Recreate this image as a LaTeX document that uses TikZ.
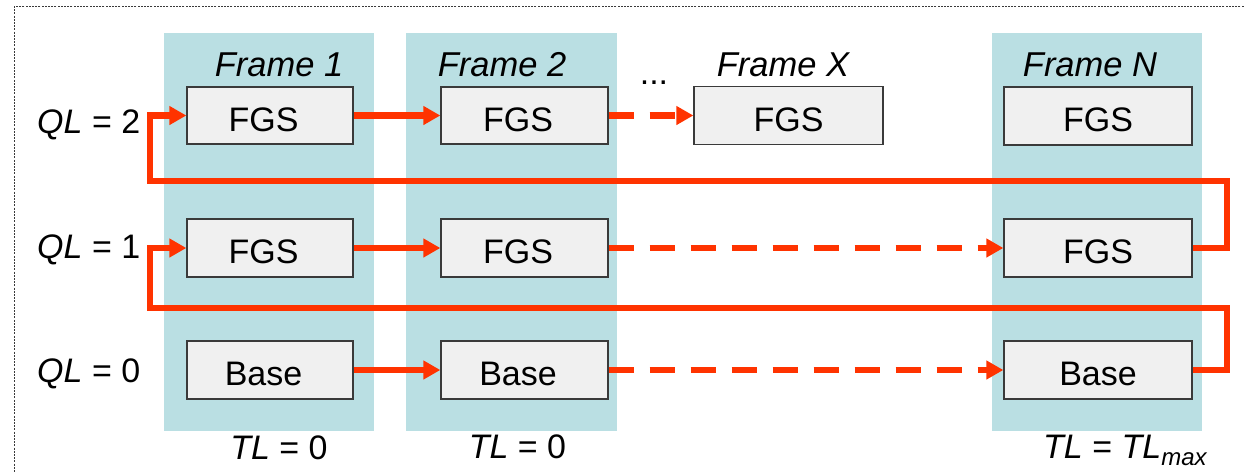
\documentclass[tikz,border=0pt]{standalone}
\usepackage{fontspec}
\setmainfont{Liberation Sans}
\usetikzlibrary{arrows.meta}

\definecolor{framebg}{HTML}{BADFE3}
\definecolor{boxbg}{HTML}{F0F0F0}
\definecolor{boxline}{HTML}{3A3A3A}
\definecolor{flowred}{HTML}{FF3300}

\tikzset{
  column/.style={fill=framebg, draw=none, inner sep=0pt},
  layerbox/.style={fill=boxbg, draw=boxline, line width=1.3pt, inner sep=0pt,
    text height=31pt, text depth=0pt,
    font=\fontsize{34}{36}\selectfont},
  leftbox/.style={layerbox, execute at begin node=\hspace*{-13pt}},
  framelabel/.style={anchor=base, inner sep=0pt, font=\fontsize{34.5}{36}\selectfont\itshape},
  sidelabel/.style={anchor=base west, inner sep=0pt, font=\fontsize{34}{36}\selectfont},
  tllabel/.style={anchor=base, inner sep=0pt, font=\fontsize{34}{36}\selectfont},
  flow/.style={draw=flowred, line width=6.5pt,
    -{Triangle[length=17pt,width=18pt]}},
  dashflow/.style={flow, dash pattern=on 25pt off 16pt},
}

\begin{document}
\begin{tikzpicture}[x=1pt, y=-1pt]
  \useasboundingbox (0,0) rectangle (1245,472);

  % dotted outer frame (runs past the right and bottom edges)
  \begin{scope}
    \clip (0,0) rectangle (1245,472);
    \draw[boxline, line width=0.8pt, dash pattern=on 2pt off 1.2pt]
      (14,6) rectangle (1260,490);
  \end{scope}

  % frame columns
  \node[column, minimum width=210pt, minimum height=398pt] (c1) at (269,232) {};
  \node[column, minimum width=211pt, minimum height=398pt] (c2) at (511.5,232) {};
  \node[column, minimum width=210pt, minimum height=398pt] (cn) at (1097,232) {};

  % frame titles
  \node[framelabel] (t1) at (279,76) {Frame 1};
  \node[framelabel] (t2) at (502,76) {Frame 2};
  \node[framelabel] (tx) at (783,76) {Frame X};
  \node[framelabel] (tn) at (1090,76) {Frame N};
  \node[anchor=base, inner sep=0pt, font=\fontsize{34}{36}\selectfont] (dots) at (654,84) {...};

  % quality level labels
  \node[sidelabel] (q2) at (37,133) {\textit{QL} = 2};
  \node[sidelabel] (q1) at (37,258) {\textit{QL} = 1};
  \node[sidelabel] (q0) at (37,382) {\textit{QL} = 0};

  % temporal level labels
  \node[tllabel] (tl1) at (279,459) {\textit{TL} = 0};
  \node[tllabel] (tl2) at (517.5,458) {\textit{TL} = 0};
  \node[sidelabel] (tln) at (1043,458)
    {\textit{TL} = \textit{TL}\raisebox{-7pt}{\fontsize{24}{26}\selectfont\itshape max}};

  % layer boxes
  \node[leftbox, minimum width=166pt, minimum height=57pt] (a2) at (270,115.5) {FGS};
  \node[leftbox, minimum width=166pt, minimum height=58pt] (a1) at (270,248) {FGS};
  \node[leftbox, minimum width=166pt, minimum height=58pt] (a0) at (270,370) {Base};

  \node[leftbox, minimum width=167pt, minimum height=57pt] (b2) at (524.5,115.5) {FGS};
  \node[leftbox, minimum width=167pt, minimum height=58pt] (b1) at (524.5,248) {FGS};
  \node[leftbox, minimum width=167pt, minimum height=58pt] (b0) at (524.5,370) {Base};

  \node[layerbox, minimum width=189pt, minimum height=58pt] (x2) at (788.5,115.5) {FGS};

  \node[layerbox, minimum width=188pt, minimum height=58pt] (n2) at (1098,116) {FGS};
  \node[layerbox, minimum width=188pt, minimum height=58pt] (n1) at (1098,248) {FGS};
  \node[layerbox, minimum width=188pt, minimum height=58pt] (n0) at (1098,370) {Base};

  % prediction chains within each layer
  \draw[flow] (a2.east) -- (b2.west);
  \draw[dashflow] (b2.east) -- (x2.west);
  \draw[flow] (a1.east) -- (b1.west);
  \draw[dashflow] (b1.east) -- (n1.west);
  \draw[flow] (a0.east) -- (b0.west);
  \draw[dashflow] (b0.east) -- (n0.west);

  % wrap-around links from the last frame to the next layer up
  \coordinate (r1) at (1227,181);
  \coordinate (l1) at (150,181);
  \coordinate (r0) at (1227,308);
  \coordinate (l0) at (150,308);
  \draw[flow] (n1.east) -| (r1) -- (l1) |- (a2.west);
  \draw[flow] (n0.east) -| (r0) -- (l0) |- (a1.west);
\end{tikzpicture}
\end{document}
